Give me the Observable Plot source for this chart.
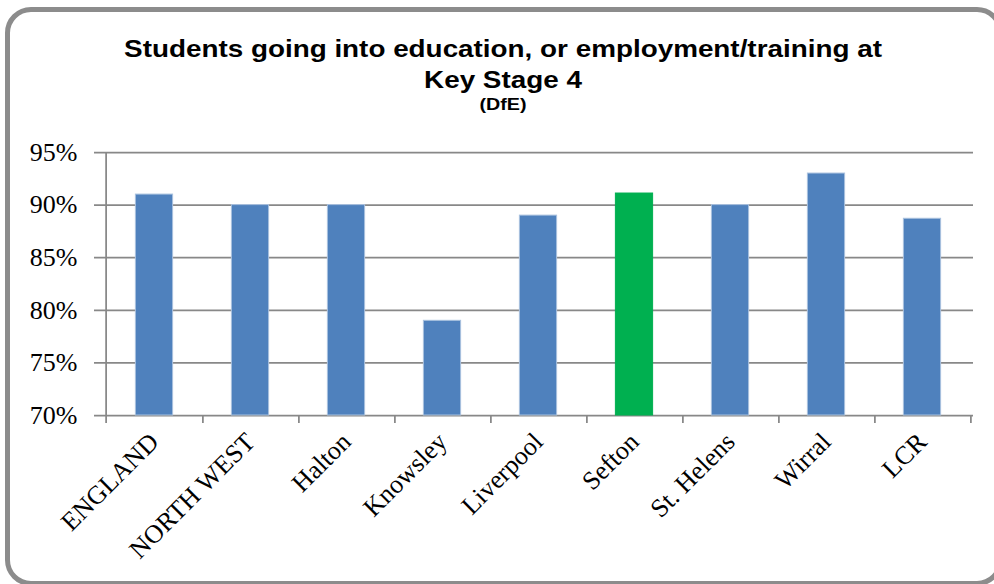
<!DOCTYPE html>
<html>
<head>
<meta charset="utf-8">
<script src="https://cdn.jsdelivr.net/npm/d3@7"></script>
<script src="https://cdn.jsdelivr.net/npm/@observablehq/plot@0.6"></script>
<style>
  html, body { margin: 0; padding: 0; background: #fff; }
  #wrap { position: relative; width: 994px; height: 584px; overflow: hidden; background: #fff; }
  #frame { position: absolute; left: 5px; top: 7px; width: 988px; height: 569px; border: 5px solid #8c8c8c; border-radius: 26px; box-sizing: content-box; }
  .t { position: absolute; left: 0; width: 1006px; text-align: center; font-family: "Liberation Sans", Arial, sans-serif; font-weight: bold; color: #000; transform: scaleX(1.16); transform-origin: 503px 0; white-space: nowrap; }
  #chart { position: absolute; left: 0; top: 0; }
</style>
</head>
<body>
<div id="wrap">
  <div id="frame"></div>
  <div id="chart"></div>
  <div class="t" id="t1" style="top:37px;font-size:24px;line-height:24px;"></div>
  <div class="t" id="t2" style="top:68px;font-size:24px;line-height:24px;"></div>
  <div class="t" id="t3" style="top:96px;font-size:17px;line-height:17px;"></div>
</div>
<script>
const titleLines = ["Students going into education, or employment/training at", "Key Stage 4", "(DfE)"];
const categories = ["ENGLAND", "NORTH WEST", "Halton", "Knowsley", "Liverpool", "Sefton", "St. Helens", "Wirral", "LCR"];
const values = [91.0, 90.0, 90.0, 79.0, 89.0, 91.1, 90.0, 93.0, 88.7];
const highlighted = ["Sefton"];
const yTicks = [70, 75, 80, 85, 90, 95];
const yDomain = [70, 95];

document.getElementById("t1").textContent = titleLines[0];
document.getElementById("t2").textContent = titleLines[1];
document.getElementById("t3").textContent = titleLines[2];

const data = categories.map((c, i) => ({category: c, value: values[i], hi: highlighted.includes(c)}));

const W = 994, H = 584, mL = 102, mR = 21, mT = 152, mB = 169;
const bw = (W - mL - mR) / categories.length;
const barW = 38;
const inset = (bw - barW) / 2;
const gridColor = "#888888";
const serif = "'Liberation Serif', 'Times New Roman', serif";

const chart = Plot.plot({
  width: W,
  height: H,
  marginLeft: mL,
  marginRight: mR,
  marginTop: mT,
  marginBottom: mB,
  style: {background: "transparent", overflow: "visible"},
  x: {type: "band", domain: categories, padding: 0, axis: null, label: null},
  y: {domain: yDomain, axis: null, label: null},
  marks: [
    Plot.ruleY(yTicks, {stroke: gridColor, strokeWidth: 1.75, insetLeft: -8}),
    Plot.barY(data, {
      x: "category", y1: yDomain[0], y2: "value",
      fill: d => d.hi ? "#00B050" : "#4F81BD",
      stroke: d => d.hi ? "#00B050" : "#A9C1DE", strokeWidth: 1,
      insetLeft: inset, insetRight: inset
    }),
    Plot.ruleX(categories.slice(0, 1), {x: d => d, y1: yDomain[0], y2: yDomain[1], dx: -bw / 2, stroke: gridColor, strokeWidth: 1.75}),
    Plot.axisX({tickSize: 8, tickFormat: () => "", dx: bw / 2, stroke: gridColor, strokeWidth: 1.75, label: null}),
    Plot.axisX(categories.slice(0, 1), {tickSize: 8, tickFormat: () => "", dx: -bw / 2, stroke: gridColor, strokeWidth: 1.75, label: null}),
    Plot.axisX({tickSize: 0, tickRotate: -45, tickPadding: 22, fontSize: 26, fontFamily: serif, fill: "#000", label: null}),
    Plot.axisY(yTicks, {tickSize: 0, tickPadding: 25, tickFormat: d => d + "%", fontSize: 26, fontFamily: serif, fill: "#000", label: null})
  ]
});
document.getElementById("chart").appendChild(chart);
</script>
</body>
</html>
